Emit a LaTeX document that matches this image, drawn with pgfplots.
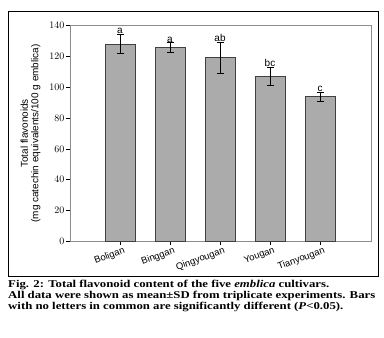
\documentclass[border=0pt]{standalone}
\usepackage{graphicx}
\usepackage{pgfplots}
\pgfplotsset{compat=1.18}
\usepackage{fontspec}
\setmainfont{Liberation Sans}
\newfontfamily\capfont{Liberation Serif}
\definecolor{barfill}{HTML}{ABABAB}
\definecolor{axgray}{HTML}{8C8C8C}
\begin{document}
\begin{tikzpicture}[x=1bp,y=1bp]
\path (0,0) rectangle (384,338);
\draw[black, line width=1bp] (8,61) rectangle (378,326);
\begin{axis}[
  at={(70bp,96.3bp)}, anchor=south west,
  scale only axis, width=301bp, height=216.7bp,
  xmin=-1, xmax=5.02, ymin=0, ymax=140,
  ytick={0,20,...,140},
  xtick={0,1,2,3,4},
  xticklabels={Boligan,Binggan,Qingyougan,Yougan,Tianyougan},
  x tick label style={rotate=20, anchor=north east, font=\fontsize{9.5}{10}\selectfont, inner sep=0.5bp, xshift=3bp, yshift=-1.5bp},
  y tick label style={font=\fontsize{10}{11}\selectfont, inner sep=2bp},
  tick align=outside, major tick length=3.5bp,
  xtick pos=bottom, ytick pos=left,
  axis line style={axgray, line width=0.8bp},
  tick style={black, line width=0.6bp},
  ylabel={Total flavonoids\\(mg catechin equivalents/100 g emblica)},
  ylabel style={align=center, font=\fontsize{10}{10.5}\selectfont, at={(axis description cs:-0.131,0.5)}, anchor=center},
  axis x line*=bottom,
]
\addplot[ybar, bar width=30bp, fill=barfill, draw=black!75, line width=0.6bp,
  error bars/.cd, y dir=both, y explicit,
  error bar style={black, line width=0.6bp},
  error mark options={rotate=90, mark size=3.5bp, black, line width=0.6bp}]
  coordinates {
  (0,127.7) +- (0,6.3)
  (1,125.6) +- (0,3.0)
  (2,118.9) +- (0,10.2)
  (3,106.8) +- (0,6.0)
  (4,93.7) +- (0,2.8)
  };
\addplot[draw=none, mark=none, nodes near coords, point meta=explicit symbolic,
  nodes near coords style={anchor=south, font=\fontsize{10}{11}\selectfont, inner sep=0.3bp}]
  coordinates {
  (0,134.0) [a]
  (1,128.6) [a]
  (2,129.1) [ab]
  (3,112.8) [bc]
  (4,96.5) [c]
  };
\end{axis}
\draw[axgray, line width=0.8bp] (70,313) -- (371,313) -- (371,96.3);
\draw[axgray, line width=0.8bp] (70,96.3) -- (70,313);
\begin{scope}[every node/.style={anchor=base west, inner sep=0, xscale=1.22, transform shape, font=\capfont\bfseries\fontsize{10.5}{11}\selectfont}]
\node at (8,51) {Fig. 2: Total flavonoid content of the five \textit{emblica} cultivars.};
\node at (8,40) {All data were shown as mean±SD from triplicate experiments. Bars};
\node at (8,29) {with no letters in common are significantly different (\textit{P}<0.05).};
\end{scope}
\end{tikzpicture}
\end{document}
